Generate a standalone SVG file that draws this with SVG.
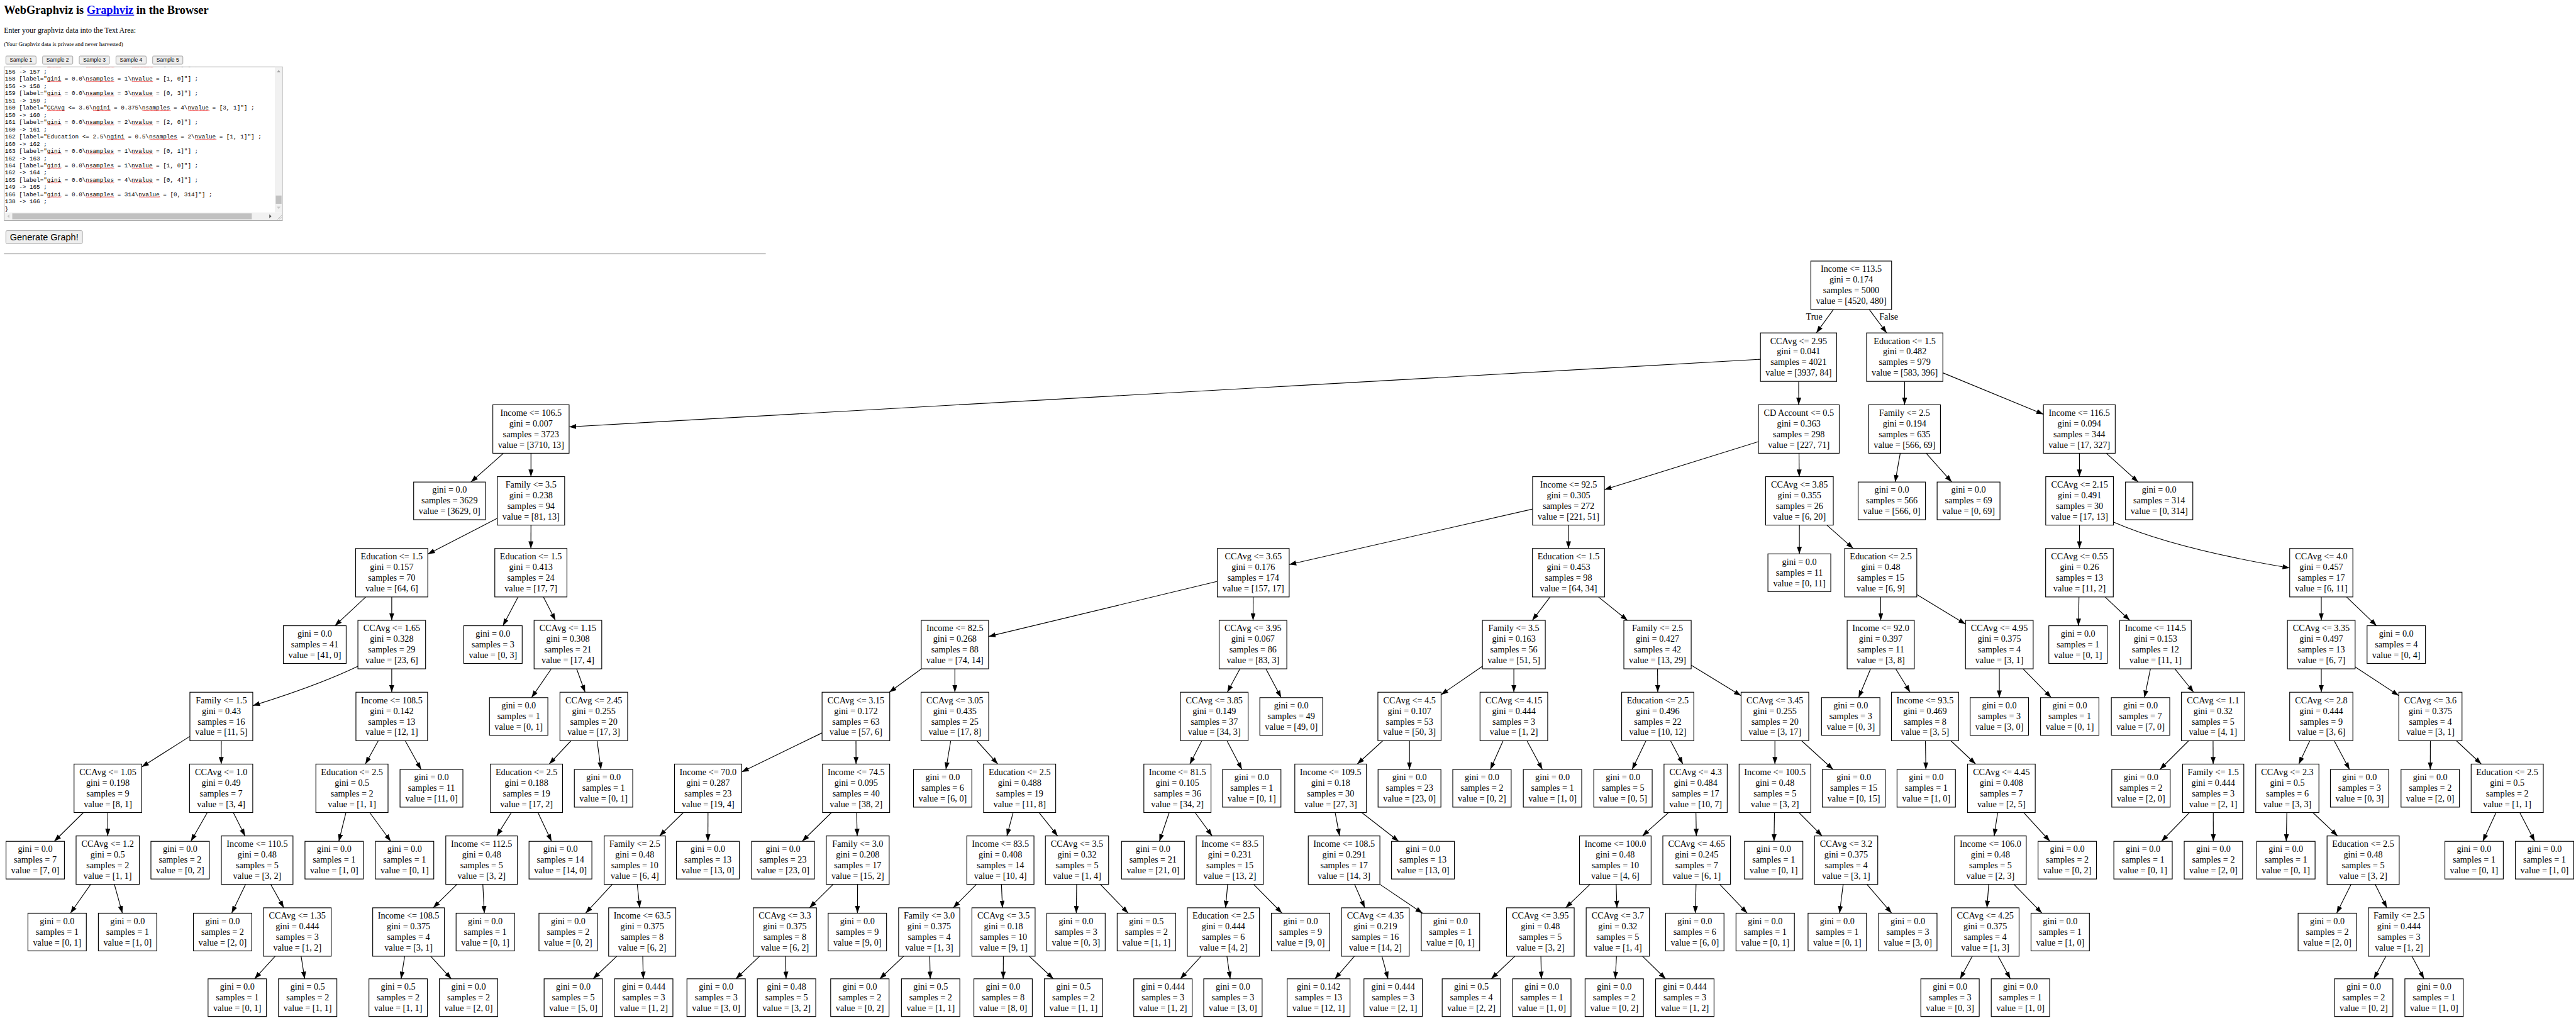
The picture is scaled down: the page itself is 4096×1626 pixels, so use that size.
<svg xmlns="http://www.w3.org/2000/svg" width="4096" height="1626" viewBox="0 0 4096 1626">
<style>
.n rect{fill:#fff;stroke:#000;stroke-width:1.5}
.n text,.lb{font-family:"Liberation Serif","Times New Roman",serif;font-size:18.6px;text-anchor:middle;fill:#000}
.e path{fill:none;stroke:#000;stroke-width:1.5;marker-end:url(#ah)}
.h1{font-family:"Liberation Serif","Times New Roman",serif;font-weight:bold;font-size:24px;fill:#000}
.p{font-family:"Liberation Serif","Times New Roman",serif;font-size:15.6px;fill:#000}
.sm{font-family:"Liberation Serif","Times New Roman",serif;font-size:12px;fill:#000}
.bt rect{fill:#efefef;stroke:#8a8a8a;stroke-width:1}
.bt text{font-family:"Liberation Sans",Arial,sans-serif;font-size:11.1px;text-anchor:middle;fill:#000}
.code{font-family:"Liberation Mono","Courier New",monospace;font-size:12.2px;fill:#000}
.sq{fill:url(#sq)}
</style>
<defs>
<marker id="ah" viewBox="0 0 10 7" refX="10" refY="3.5" markerUnits="userSpaceOnUse" markerWidth="14.8" markerHeight="10.4" orient="auto"><path d="M0,0L10,3.5L0,7z" fill="#000"/></marker>
<pattern id="sq" width="3" height="3" patternUnits="userSpaceOnUse"><path d="M0,2.4L1.5,0.6L3,2.4" fill="none" stroke="#e00" stroke-width="0.8"/></pattern>
<clipPath id="tac"><rect x="9.2" y="139.4" width="562" height="302"/></clipPath>
</defs>
<rect width="4096" height="1626" fill="#fff"/>
<g transform="scale(0.76475)">
<g id="page">
<text class="h1" x="8.2" y="29">WebGraphviz is <tspan fill="#0000ee">Graphviz</tspan> in the Browser</text>
<line x1="181.6" y1="31.6" x2="278.9" y2="31.6" stroke="#0000ee" stroke-width="1.6"/>
<text class="p" x="8.2" y="68">Enter your graphviz data into the Text Area:</text>
<text class="sm" x="8.2" y="96">(Your Graphviz data is private and never harvested)</text>
<g class="bt">
<rect x="12.2" y="116.4" width="62.8" height="17" rx="2"/><text x="43.6" y="128.5">Sample 1</text>
<rect x="88.5" y="116.4" width="62.8" height="17" rx="2"/><text x="119.9" y="128.5">Sample 2</text>
<rect x="164.8" y="116.4" width="62.8" height="17" rx="2"/><text x="196.2" y="128.5">Sample 3</text>
<rect x="241.1" y="116.4" width="62.8" height="17" rx="2"/><text x="272.5" y="128.5">Sample 4</text>
<rect x="317.4" y="116.4" width="62.8" height="17" rx="2"/><text x="348.8" y="128.5">Sample 5</text>
</g>
<rect x="8.7" y="138.9" width="578.6" height="319.3" fill="#fff" stroke="#8f8f8f" stroke-width="1"/>
<g clip-path="url(#tac)">
<text class="code" x="10.2" y="137.8">157 [label="gini = 0.0\nsamples = 2\nvalue = [0, 2]"] ;</text>
<text class="code" x="10.2" y="152.8">156 -&gt; 157 ;</text>
<text class="code" x="10.2" y="167.8">158 [label="gini = 0.0\nsamples = 1\nvalue = [1, 0]"] ;</text>
<text class="code" x="10.2" y="182.8">156 -&gt; 158 ;</text>
<text class="code" x="10.2" y="197.8">159 [label="gini = 0.0\nsamples = 3\nvalue = [0, 3]"] ;</text>
<text class="code" x="10.2" y="212.8">151 -&gt; 159 ;</text>
<text class="code" x="10.2" y="227.8">160 [label="CCAvg &lt;= 3.6\ngini = 0.375\nsamples = 4\nvalue = [3, 1]"] ;</text>
<text class="code" x="10.2" y="242.8">150 -&gt; 160 ;</text>
<text class="code" x="10.2" y="257.8">161 [label="gini = 0.0\nsamples = 2\nvalue = [2, 0]"] ;</text>
<text class="code" x="10.2" y="272.8">160 -&gt; 161 ;</text>
<text class="code" x="10.2" y="287.8">162 [label="Education &lt;= 2.5\ngini = 0.5\nsamples = 2\nvalue = [1, 1]"] ;</text>
<text class="code" x="10.2" y="302.8">160 -&gt; 162 ;</text>
<text class="code" x="10.2" y="317.8">163 [label="gini = 0.0\nsamples = 1\nvalue = [0, 1]"] ;</text>
<text class="code" x="10.2" y="332.8">162 -&gt; 163 ;</text>
<text class="code" x="10.2" y="347.8">164 [label="gini = 0.0\nsamples = 1\nvalue = [1, 0]"] ;</text>
<text class="code" x="10.2" y="362.8">162 -&gt; 164 ;</text>
<text class="code" x="10.2" y="377.8">165 [label="gini = 0.0\nsamples = 4\nvalue = [0, 4]"] ;</text>
<text class="code" x="10.2" y="392.8">149 -&gt; 165 ;</text>
<text class="code" x="10.2" y="407.8">166 [label="gini = 0.0\nsamples = 314\nvalue = [0, 314]"] ;</text>
<text class="code" x="10.2" y="422.8">138 -&gt; 166 ;</text>
<text class="code" x="10.2" y="437.8">}</text>
<rect class="sq" x="98.2" y="138" width="29.3" height="3"/><rect class="sq" x="178.8" y="138" width="58.6" height="3"/><rect class="sq" x="274.1" y="138" width="44" height="3"/>
<rect class="sq" x="98.2" y="168" width="29.3" height="3"/><rect class="sq" x="178.8" y="168" width="58.6" height="3"/><rect class="sq" x="274.1" y="168" width="44" height="3"/>
<rect class="sq" x="98.2" y="198" width="29.3" height="3"/><rect class="sq" x="178.8" y="198" width="58.6" height="3"/><rect class="sq" x="274.1" y="198" width="44" height="3"/>
<rect class="sq" x="98.2" y="228" width="36.6" height="3"/><rect class="sq" x="193.5" y="228" width="36.6" height="3"/><rect class="sq" x="296.1" y="228" width="58.6" height="3"/><rect class="sq" x="391.4" y="228" width="44" height="3"/>
<rect class="sq" x="98.2" y="258" width="29.3" height="3"/><rect class="sq" x="178.8" y="258" width="58.6" height="3"/><rect class="sq" x="274.1" y="258" width="44" height="3"/>
<rect class="sq" x="222.8" y="288" width="36.6" height="3"/><rect class="sq" x="310.7" y="288" width="58.6" height="3"/><rect class="sq" x="406" y="288" width="44" height="3"/>
<rect class="sq" x="98.2" y="318" width="29.3" height="3"/><rect class="sq" x="178.8" y="318" width="58.6" height="3"/><rect class="sq" x="274.1" y="318" width="44" height="3"/>
<rect class="sq" x="98.2" y="348" width="29.3" height="3"/><rect class="sq" x="178.8" y="348" width="58.6" height="3"/><rect class="sq" x="274.1" y="348" width="44" height="3"/>
<rect class="sq" x="98.2" y="378" width="29.3" height="3"/><rect class="sq" x="178.8" y="378" width="58.6" height="3"/><rect class="sq" x="274.1" y="378" width="44" height="3"/>
<rect class="sq" x="98.2" y="408" width="29.3" height="3"/><rect class="sq" x="178.8" y="408" width="58.6" height="3"/><rect class="sq" x="288.7" y="408" width="44" height="3"/>
</g>
<rect x="571.5" y="139.4" width="15.8" height="302.1" fill="#f1f1f1"/>
<rect x="573.4" y="406.4" width="12" height="17.2" fill="#c1c1c1"/>
<path d="M575.6,150.5L579.4,145.5L583.2,150.5z" fill="#a3a3a3"/>
<path d="M575.6,429.5L579.4,434.5L583.2,429.5z" fill="#c8c8c8"/>
<rect x="9.2" y="441.5" width="562.3" height="16.2" fill="#f1f1f1"/>
<rect x="25.5" y="443.5" width="498" height="12.2" fill="#c1c1c1"/>
<path d="M19.5,445.7L15,449.6L19.5,453.5z" fill="#c8c8c8"/>
<path d="M560,445.7L564.5,449.6L560,453.5z" fill="#505050"/>
<rect x="571.5" y="441.5" width="15.8" height="16.2" fill="#f1f1f1"/>
<path d="M577,456L585.5,447.5M580.5,456L585.5,451" stroke="#999" stroke-width="0.8"/>
<g class="bt"><rect x="12.2" y="479.4" width="159.2" height="26.8" rx="2.5"/><text x="91.8" y="499" style="font-size:19px">Generate Graph!</text></g>
<rect x="8.2" y="526.6" width="1584" height="1.8" fill="#a0a0a0"/>
</g>
<g id="edges" class="e">
<path d="M3812.1,643.3L3776.5,691.95"/>
<path d="M3886.5,643.3L3922.8,691.95"/>
<path d="M3660.3,746.8L1183.3,887.2"/>
<path d="M3739.8,792.65L3739.9,841.3"/>
<path d="M3960.2,792.65L3960,841.3"/>
<path d="M4039.6,774.9L4248.85,861"/>
<path d="M1046.9,942L979.1,1001.85"/>
<path d="M1104,942L1104,990.65"/>
<path d="M3656.1,917.85L3335.85,1017.7"/>
<path d="M3740.5,942L3741,990.65"/>
<path d="M3951,942L3940.3,1001.85"/>
<path d="M4004.8,942L4058.1,1001.85"/>
<path d="M4323.5,942L4323.6,990.65"/>
<path d="M4379.3,942L4445.8,1001.85"/>
<path d="M1034,1077.1L889.5,1151.7"/>
<path d="M1104,1091.35L1103.8,1140"/>
<path d="M3186.55,1058L2680.45,1173.3"/>
<path d="M3261.2,1091.35L3261.2,1140"/>
<path d="M3741.3,1091.35L3741.2,1151.2"/>
<path d="M3798.4,1091.35L3853.4,1140"/>
<path d="M4323.7,1091.35L4323.6,1140"/>
<path d="M4394.15,1085Q4520,1140 4760.7,1180.5"/>
<path d="M760.5,1240.7L696.4,1300.55"/>
<path d="M814.5,1240.7L814.5,1289.35"/>
<path d="M1077.2,1240.7L1045.7,1300.55"/>
<path d="M1129.8,1240.7L1154.8,1289.35"/>
<path d="M2531.15,1208.3L2055.4,1322.85"/>
<path d="M2605.6,1240.7L2605.4,1289.35"/>
<path d="M3222.9,1240.7L3185.9,1289.35"/>
<path d="M3323.6,1240.7L3383.9,1289.35"/>
<path d="M3910.4,1240.7L3910.4,1289.35"/>
<path d="M3985.4,1235.8L4086.65,1297.1"/>
<path d="M4322.6,1240.7L4321.4,1300.55"/>
<path d="M4376.9,1240.7L4428.3,1289.35"/>
<path d="M4826.4,1240.7L4826.4,1289.35"/>
<path d="M4879,1240.7L4941.4,1300.55"/>
<path d="M744.15,1384.7Q660,1425 525.55,1466.6"/>
<path d="M814.5,1390.05L814.5,1438.7"/>
<path d="M1146.3,1390.05L1105.2,1449.9"/>
<path d="M1198.9,1390.05L1216.5,1438.7"/>
<path d="M1916,1390.05L1849,1438.7"/>
<path d="M1985.4,1390.05L1985.4,1438.7"/>
<path d="M2578.1,1390.05L2551.8,1438.7"/>
<path d="M2632,1390.05L2663.9,1449.9"/>
<path d="M3082.25,1384.7L2996.3,1443.8"/>
<path d="M3147.6,1390.05L3147.6,1438.7"/>
<path d="M3446.3,1390.05L3446.8,1438.7"/>
<path d="M3516.3,1382.5L3620.05,1446"/>
<path d="M3889.4,1390.05L3864.4,1449.9"/>
<path d="M3941.5,1390.05L3971.5,1438.7"/>
<path d="M4157,1390.05L4157,1449.9"/>
<path d="M4206.4,1390.05L4265,1449.9"/>
<path d="M4471.2,1390.05L4458.7,1449.9"/>
<path d="M4522,1390.05L4561,1438.7"/>
<path d="M4826.4,1390.05L4826.4,1438.7"/>
<path d="M4896.75,1386L4987.6,1445.8"/>
<path d="M394.85,1530.4L294.65,1593.9"/>
<path d="M460.1,1539.4L459.9,1588.05"/>
<path d="M786.6,1539.4L759.7,1588.05"/>
<path d="M842.4,1539.4L875.5,1599.25"/>
<path d="M1187.4,1539.4L1141.9,1588.05"/>
<path d="M1241.4,1539.4L1249.6,1599.25"/>
<path d="M1709.25,1523.2L1542,1604.5"/>
<path d="M1779.7,1539.4L1779.9,1588.05"/>
<path d="M1976.8,1539.4L1966.7,1599.25"/>
<path d="M2030.8,1539.4L2074.6,1588.05"/>
<path d="M2498.9,1539.4L2473.9,1588.05"/>
<path d="M2551,1539.4L2582.2,1599.25"/>
<path d="M2875.3,1539.4L2821.9,1588.05"/>
<path d="M2930.6,1539.4L2930.6,1599.25"/>
<path d="M3125.3,1539.4L3098.7,1599.25"/>
<path d="M3174.7,1539.4L3206.9,1599.25"/>
<path d="M3422.4,1539.4L3393.5,1599.25"/>
<path d="M3473.3,1539.4L3499,1588.05"/>
<path d="M3690.4,1539.4L3690.4,1588.05"/>
<path d="M3745.7,1539.4L3811.4,1599.25"/>
<path d="M4003.3,1539.4L4004.3,1599.25"/>
<path d="M4056,1539.4L4107.8,1588.05"/>
<path d="M4550.8,1539.4L4490.8,1599.25"/>
<path d="M4601.4,1539.4L4601.6,1588.05"/>
<path d="M4802.6,1539.4L4779.6,1588.05"/>
<path d="M4853.2,1539.4L4885.1,1599.25"/>
<path d="M5053.2,1539.4L5053,1599.25"/>
<path d="M5107.1,1539.4L5159.2,1588.05"/>
<path d="M173.4,1688.75L112.8,1748.6"/>
<path d="M224.2,1688.75L224,1737.4"/>
<path d="M431,1688.75L396.9,1748.6"/>
<path d="M485.1,1688.75L509.5,1737.4"/>
<path d="M719.3,1688.75L704.5,1748.6"/>
<path d="M768.7,1688.75L812.5,1748.6"/>
<path d="M1063.2,1688.75L1032.8,1737.4"/>
<path d="M1118.5,1688.75L1146.8,1748.6"/>
<path d="M1420.8,1688.75L1371.2,1737.4"/>
<path d="M1472.1,1688.75L1471.9,1748.6"/>
<path d="M1728.8,1688.75L1667.8,1748.6"/>
<path d="M1781.1,1688.75L1782.3,1737.4"/>
<path d="M2106.5,1688.75L2093.5,1737.4"/>
<path d="M2160.2,1688.75L2199.1,1737.4"/>
<path d="M2431,1688.75L2410.6,1748.6"/>
<path d="M2484.8,1688.75L2520.3,1737.4"/>
<path d="M2776,1688.75L2785.2,1737.4"/>
<path d="M2831.3,1688.75L2908.3,1748.6"/>
<path d="M3469.2,1688.75L3414.8,1737.4"/>
<path d="M3526.2,1688.75L3527,1737.4"/>
<path d="M3689.5,1688.75L3688.5,1748.6"/>
<path d="M3740.3,1688.75L3788.6,1737.4"/>
<path d="M4153.6,1688.75L4146.2,1737.4"/>
<path d="M4207.5,1688.75L4262.3,1748.6"/>
<path d="M4552.5,1688.75L4494.1,1748.6"/>
<path d="M4601.8,1688.75L4602,1748.6"/>
<path d="M4754.8,1688.75L4753.6,1748.6"/>
<path d="M4808.9,1688.75L4860.3,1737.4"/>
<path d="M5189.8,1688.75L5162.2,1748.6"/>
<path d="M5239.1,1688.75L5270.2,1748.6"/>
<path d="M188.5,1838.1L146.4,1897.95"/>
<path d="M237.8,1838.1L254.4,1897.95"/>
<path d="M510.5,1838.1L481.7,1897.95"/>
<path d="M562.9,1838.1L590.1,1886.75"/>
<path d="M950.1,1838.1L900.6,1886.75"/>
<path d="M1003.9,1838.1L1007,1897.95"/>
<path d="M1273.1,1838.1L1217.6,1897.95"/>
<path d="M1325,1838.1L1330.1,1886.75"/>
<path d="M1732.3,1838.1L1683,1886.75"/>
<path d="M1783.1,1838.1L1782.8,1897.95"/>
<path d="M2030.1,1838.1L1981.9,1886.75"/>
<path d="M2082.2,1838.1L2084.3,1886.75"/>
<path d="M2238.6,1838.1L2237.8,1897.95"/>
<path d="M2287.9,1838.1L2345.7,1897.95"/>
<path d="M2552.5,1838.1L2548.2,1886.75"/>
<path d="M2606.6,1838.1L2665.6,1897.95"/>
<path d="M2816.5,1838.1L2837.7,1886.75"/>
<path d="M2869,1838L2957.8,1897.95"/>
<path d="M3306,1838.1L3255.2,1886.75"/>
<path d="M3360.3,1838.1L3361.9,1886.75"/>
<path d="M3526.4,1838.1L3524.8,1897.95"/>
<path d="M3575.7,1838.1L3632.8,1897.95"/>
<path d="M3832.3,1838.1L3824.8,1897.95"/>
<path d="M3881.7,1838.1L3933.1,1897.95"/>
<path d="M4134.9,1838.1L4131.3,1886.75"/>
<path d="M4187.4,1838.1L4245.6,1897.95"/>
<path d="M4888.3,1838.1L4858.4,1897.95"/>
<path d="M4938.5,1838.1L4962.8,1886.75"/>
<path d="M572.1,1987.45L529.2,2034.35"/>
<path d="M626.1,1987.45L633.5,2034.35"/>
<path d="M841.4,1987.45L834,2034.35"/>
<path d="M895.5,1987.45L938.4,2034.35"/>
<path d="M1282.4,1987.45L1233.1,2034.35"/>
<path d="M1336.4,1987.45L1337.5,2034.35"/>
<path d="M1579.2,1987.45L1530,2034.35"/>
<path d="M1633.2,1987.45L1634.4,2034.35"/>
<path d="M1878.8,1987.45L1829.2,2034.35"/>
<path d="M1933.1,1987.45L1934.1,2034.35"/>
<path d="M2086.2,1987.45L2085.9,2034.35"/>
<path d="M2140.2,1987.45L2190.2,2034.35"/>
<path d="M2497.3,1987.45L2454.1,2034.35"/>
<path d="M2551,1987.45L2557.8,2034.35"/>
<path d="M2816,1987.45L2775.5,2034.35"/>
<path d="M2873.3,1987.45L2886,2034.35"/>
<path d="M3149.8,1987.45L3100.5,2034.35"/>
<path d="M3203.8,1987.45L3204.8,2034.35"/>
<path d="M3361,1987.45L3358.5,2034.35"/>
<path d="M3415.2,1987.45L3463.1,2034.35"/>
<path d="M4100.7,1987.45L4075.5,2034.35"/>
<path d="M4154.7,1987.45L4179.9,2034.35"/>
<path d="M4960.8,1987.45L4935.6,2034.35"/>
<path d="M5014.9,1987.45L5040,2034.35"/>
</g>
<text class="lb" x="3772" y="664.3">True</text>
<text class="lb" x="3927" y="664.3">False</text>
<g id="nodes">
<g id="n0" class="n" transform="translate(3849,592.95)"><rect x="-83.95" y="-50.35" width="167.9" height="100.7"/><text y="-27.7">Income &lt;= 113.5</text><text y="-5.5">gini = 0.174</text><text y="16.7">samples = 5000</text><text y="38.9">value = [4520, 480]</text></g>
<g id="n1" class="n" transform="translate(3739.6,742.3)"><rect x="-79.3" y="-50.35" width="158.6" height="100.7"/><text y="-27.7">CCAvg &lt;= 2.95</text><text y="-5.5">gini = 0.041</text><text y="16.7">samples = 4021</text><text y="38.9">value = [3937, 84]</text></g>
<g id="n2" class="n" transform="translate(3960.3,742.3)"><rect x="-79.3" y="-50.35" width="158.6" height="100.7"/><text y="-27.7">Education &lt;= 1.5</text><text y="-5.5">gini = 0.482</text><text y="16.7">samples = 979</text><text y="38.9">value = [583, 396]</text></g>
<g id="n3" class="n" transform="translate(1104,891.65)"><rect x="-79.3" y="-50.35" width="158.6" height="100.7"/><text y="-27.7">Income &lt;= 106.5</text><text y="-5.5">gini = 0.007</text><text y="16.7">samples = 3723</text><text y="38.9">value = [3710, 13]</text></g>
<g id="n4" class="n" transform="translate(3740.1,891.65)"><rect x="-84" y="-50.35" width="168" height="100.7"/><text y="-27.7">CD Account &lt;= 0.5</text><text y="-5.5">gini = 0.363</text><text y="16.7">samples = 298</text><text y="38.9">value = [227, 71]</text></g>
<g id="n5" class="n" transform="translate(3959.9,891.65)"><rect x="-74.65" y="-50.35" width="149.3" height="100.7"/><text y="-27.7">Family &lt;= 2.5</text><text y="-5.5">gini = 0.194</text><text y="16.7">samples = 635</text><text y="38.9">value = [566, 69]</text></g>
<g id="n6" class="n" transform="translate(4323.3,891.65)"><rect x="-74.65" y="-50.35" width="149.3" height="100.7"/><text y="-27.7">Income &lt;= 116.5</text><text y="-5.5">gini = 0.094</text><text y="16.7">samples = 344</text><text y="38.9">value = [17, 327]</text></g>
<g id="n7" class="n" transform="translate(934.7,1041)"><rect x="-74.65" y="-39.15" width="149.3" height="78.3"/><text y="-16.6">gini = 0.0</text><text y="5.6">samples = 3629</text><text y="27.8">value = [3629, 0]</text></g>
<g id="n8" class="n" transform="translate(1104,1041)"><rect x="-70" y="-50.35" width="140" height="100.7"/><text y="-27.7">Family &lt;= 3.5</text><text y="-5.5">gini = 0.238</text><text y="16.7">samples = 94</text><text y="38.9">value = [81, 13]</text></g>
<g id="n9" class="n" transform="translate(3261.2,1041)"><rect x="-74.65" y="-50.35" width="149.3" height="100.7"/><text y="-27.7">Income &lt;= 92.5</text><text y="-5.5">gini = 0.305</text><text y="16.7">samples = 272</text><text y="38.9">value = [221, 51]</text></g>
<g id="n10" class="n" transform="translate(3741.4,1041)"><rect x="-70.35" y="-50.35" width="140.7" height="100.7"/><text y="-27.7">CCAvg &lt;= 3.85</text><text y="-5.5">gini = 0.355</text><text y="16.7">samples = 26</text><text y="38.9">value = [6, 20]</text></g>
<g id="n11" class="n" transform="translate(3933.4,1041)"><rect x="-70" y="-39.15" width="140" height="78.3"/><text y="-16.6">gini = 0.0</text><text y="5.6">samples = 566</text><text y="27.8">value = [566, 0]</text></g>
<g id="n12" class="n" transform="translate(4093,1041)"><rect x="-65.35" y="-39.15" width="130.7" height="78.3"/><text y="-16.6">gini = 0.0</text><text y="5.6">samples = 69</text><text y="27.8">value = [0, 69]</text></g>
<g id="n13" class="n" transform="translate(4323.8,1041)"><rect x="-70.35" y="-50.35" width="140.7" height="100.7"/><text y="-27.7">CCAvg &lt;= 2.15</text><text y="-5.5">gini = 0.491</text><text y="16.7">samples = 30</text><text y="38.9">value = [17, 13]</text></g>
<g id="n14" class="n" transform="translate(4489.3,1041)"><rect x="-70" y="-39.15" width="140" height="78.3"/><text y="-16.6">gini = 0.0</text><text y="5.6">samples = 314</text><text y="27.8">value = [0, 314]</text></g>
<g id="n15" class="n" transform="translate(814.5,1190.35)"><rect x="-75" y="-50.35" width="150" height="100.7"/><text y="-27.7">Education &lt;= 1.5</text><text y="-5.5">gini = 0.157</text><text y="16.7">samples = 70</text><text y="38.9">value = [64, 6]</text></g>
<g id="n16" class="n" transform="translate(1103.8,1190.35)"><rect x="-75" y="-50.35" width="150" height="100.7"/><text y="-27.7">Education &lt;= 1.5</text><text y="-5.5">gini = 0.413</text><text y="16.7">samples = 24</text><text y="38.9">value = [17, 7]</text></g>
<g id="n17" class="n" transform="translate(2605.8,1190.35)"><rect x="-74.65" y="-50.35" width="149.3" height="100.7"/><text y="-27.7">CCAvg &lt;= 3.65</text><text y="-5.5">gini = 0.176</text><text y="16.7">samples = 174</text><text y="38.9">value = [157, 17]</text></g>
<g id="n18" class="n" transform="translate(3261.2,1190.35)"><rect x="-75" y="-50.35" width="150" height="100.7"/><text y="-27.7">Education &lt;= 1.5</text><text y="-5.5">gini = 0.453</text><text y="16.7">samples = 98</text><text y="38.9">value = [64, 34]</text></g>
<g id="n19" class="n" transform="translate(3741.2,1190.35)"><rect x="-65.35" y="-39.15" width="130.7" height="78.3"/><text y="-16.6">gini = 0.0</text><text y="5.6">samples = 11</text><text y="27.8">value = [0, 11]</text></g>
<g id="n20" class="n" transform="translate(3910.4,1190.35)"><rect x="-75" y="-50.35" width="150" height="100.7"/><text y="-27.7">Education &lt;= 2.5</text><text y="-5.5">gini = 0.48</text><text y="16.7">samples = 15</text><text y="38.9">value = [6, 9]</text></g>
<g id="n21" class="n" transform="translate(4323.6,1190.35)"><rect x="-70.35" y="-50.35" width="140.7" height="100.7"/><text y="-27.7">CCAvg &lt;= 0.55</text><text y="-5.5">gini = 0.26</text><text y="16.7">samples = 13</text><text y="38.9">value = [11, 2]</text></g>
<g id="n22" class="n" transform="translate(4826.4,1190.35)"><rect x="-65.7" y="-50.35" width="131.4" height="100.7"/><text y="-27.7">CCAvg &lt;= 4.0</text><text y="-5.5">gini = 0.457</text><text y="16.7">samples = 17</text><text y="38.9">value = [6, 11]</text></g>
<g id="n23" class="n" transform="translate(654.4,1339.7)"><rect x="-65.35" y="-39.15" width="130.7" height="78.3"/><text y="-16.6">gini = 0.0</text><text y="5.6">samples = 41</text><text y="27.8">value = [41, 0]</text></g>
<g id="n24" class="n" transform="translate(814.5,1339.7)"><rect x="-70.35" y="-50.35" width="140.7" height="100.7"/><text y="-27.7">CCAvg &lt;= 1.65</text><text y="-5.5">gini = 0.328</text><text y="16.7">samples = 29</text><text y="38.9">value = [23, 6]</text></g>
<g id="n25" class="n" transform="translate(1025,1339.7)"><rect x="-60.7" y="-39.15" width="121.4" height="78.3"/><text y="-16.6">gini = 0.0</text><text y="5.6">samples = 3</text><text y="27.8">value = [0, 3]</text></g>
<g id="n26" class="n" transform="translate(1180.8,1339.7)"><rect x="-70.35" y="-50.35" width="140.7" height="100.7"/><text y="-27.7">CCAvg &lt;= 1.15</text><text y="-5.5">gini = 0.308</text><text y="16.7">samples = 21</text><text y="38.9">value = [17, 4]</text></g>
<g id="n27" class="n" transform="translate(1985.4,1339.7)"><rect x="-70" y="-50.35" width="140" height="100.7"/><text y="-27.7">Income &lt;= 82.5</text><text y="-5.5">gini = 0.268</text><text y="16.7">samples = 88</text><text y="38.9">value = [74, 14]</text></g>
<g id="n28" class="n" transform="translate(2605.2,1339.7)"><rect x="-70.35" y="-50.35" width="140.7" height="100.7"/><text y="-27.7">CCAvg &lt;= 3.95</text><text y="-5.5">gini = 0.067</text><text y="16.7">samples = 86</text><text y="38.9">value = [83, 3]</text></g>
<g id="n29" class="n" transform="translate(3147.6,1339.7)"><rect x="-65.35" y="-50.35" width="130.7" height="100.7"/><text y="-27.7">Family &lt;= 3.5</text><text y="-5.5">gini = 0.163</text><text y="16.7">samples = 56</text><text y="38.9">value = [51, 5]</text></g>
<g id="n30" class="n" transform="translate(3446.3,1339.7)"><rect x="-70" y="-50.35" width="140" height="100.7"/><text y="-27.7">Family &lt;= 2.5</text><text y="-5.5">gini = 0.427</text><text y="16.7">samples = 42</text><text y="38.9">value = [13, 29]</text></g>
<g id="n31" class="n" transform="translate(3910.4,1339.7)"><rect x="-69.8" y="-50.35" width="139.6" height="100.7"/><text y="-27.7">Income &lt;= 92.0</text><text y="-5.5">gini = 0.397</text><text y="16.7">samples = 11</text><text y="38.9">value = [3, 8]</text></g>
<g id="n32" class="n" transform="translate(4157,1339.7)"><rect x="-70.35" y="-50.35" width="140.7" height="100.7"/><text y="-27.7">CCAvg &lt;= 4.95</text><text y="-5.5">gini = 0.375</text><text y="16.7">samples = 4</text><text y="38.9">value = [3, 1]</text></g>
<g id="n33" class="n" transform="translate(4320.6,1339.7)"><rect x="-60.7" y="-39.15" width="121.4" height="78.3"/><text y="-16.6">gini = 0.0</text><text y="5.6">samples = 1</text><text y="27.8">value = [0, 1]</text></g>
<g id="n34" class="n" transform="translate(4481.6,1339.7)"><rect x="-74.45" y="-50.35" width="148.9" height="100.7"/><text y="-27.7">Income &lt;= 114.5</text><text y="-5.5">gini = 0.153</text><text y="16.7">samples = 12</text><text y="38.9">value = [11, 1]</text></g>
<g id="n35" class="n" transform="translate(4826.4,1339.7)"><rect x="-70.35" y="-50.35" width="140.7" height="100.7"/><text y="-27.7">CCAvg &lt;= 3.35</text><text y="-5.5">gini = 0.497</text><text y="16.7">samples = 13</text><text y="38.9">value = [6, 7]</text></g>
<g id="n36" class="n" transform="translate(4982.3,1339.7)"><rect x="-60.7" y="-39.15" width="121.4" height="78.3"/><text y="-16.6">gini = 0.0</text><text y="5.6">samples = 4</text><text y="27.8">value = [0, 4]</text></g>
<g id="n37" class="n" transform="translate(460.2,1489.05)"><rect x="-65.35" y="-50.35" width="130.7" height="100.7"/><text y="-27.7">Family &lt;= 1.5</text><text y="-5.5">gini = 0.43</text><text y="16.7">samples = 16</text><text y="38.9">value = [11, 5]</text></g>
<g id="n38" class="n" transform="translate(814.5,1489.05)"><rect x="-74.45" y="-50.35" width="148.9" height="100.7"/><text y="-27.7">Income &lt;= 108.5</text><text y="-5.5">gini = 0.142</text><text y="16.7">samples = 13</text><text y="38.9">value = [12, 1]</text></g>
<g id="n39" class="n" transform="translate(1078.4,1489.05)"><rect x="-60.7" y="-39.15" width="121.4" height="78.3"/><text y="-16.6">gini = 0.0</text><text y="5.6">samples = 1</text><text y="27.8">value = [0, 1]</text></g>
<g id="n40" class="n" transform="translate(1234.6,1489.05)"><rect x="-70.35" y="-50.35" width="140.7" height="100.7"/><text y="-27.7">CCAvg &lt;= 2.45</text><text y="-5.5">gini = 0.255</text><text y="16.7">samples = 20</text><text y="38.9">value = [17, 3]</text></g>
<g id="n41" class="n" transform="translate(1779.6,1489.05)"><rect x="-70.35" y="-50.35" width="140.7" height="100.7"/><text y="-27.7">CCAvg &lt;= 3.15</text><text y="-5.5">gini = 0.172</text><text y="16.7">samples = 63</text><text y="38.9">value = [57, 6]</text></g>
<g id="n42" class="n" transform="translate(1985.4,1489.05)"><rect x="-70.35" y="-50.35" width="140.7" height="100.7"/><text y="-27.7">CCAvg &lt;= 3.05</text><text y="-5.5">gini = 0.435</text><text y="16.7">samples = 25</text><text y="38.9">value = [17, 8]</text></g>
<g id="n43" class="n" transform="translate(2524.7,1489.05)"><rect x="-70.35" y="-50.35" width="140.7" height="100.7"/><text y="-27.7">CCAvg &lt;= 3.85</text><text y="-5.5">gini = 0.149</text><text y="16.7">samples = 37</text><text y="38.9">value = [34, 3]</text></g>
<g id="n44" class="n" transform="translate(2684.8,1489.05)"><rect x="-65.35" y="-39.15" width="130.7" height="78.3"/><text y="-16.6">gini = 0.0</text><text y="5.6">samples = 49</text><text y="27.8">value = [49, 0]</text></g>
<g id="n45" class="n" transform="translate(2930.6,1489.05)"><rect x="-65.7" y="-50.35" width="131.4" height="100.7"/><text y="-27.7">CCAvg &lt;= 4.5</text><text y="-5.5">gini = 0.107</text><text y="16.7">samples = 53</text><text y="38.9">value = [50, 3]</text></g>
<g id="n46" class="n" transform="translate(3147.6,1489.05)"><rect x="-70.35" y="-50.35" width="140.7" height="100.7"/><text y="-27.7">CCAvg &lt;= 4.15</text><text y="-5.5">gini = 0.444</text><text y="16.7">samples = 3</text><text y="38.9">value = [1, 2]</text></g>
<g id="n47" class="n" transform="translate(3446.8,1489.05)"><rect x="-75" y="-50.35" width="150" height="100.7"/><text y="-27.7">Education &lt;= 2.5</text><text y="-5.5">gini = 0.496</text><text y="16.7">samples = 22</text><text y="38.9">value = [10, 12]</text></g>
<g id="n48" class="n" transform="translate(3690.4,1489.05)"><rect x="-70.35" y="-50.35" width="140.7" height="100.7"/><text y="-27.7">CCAvg &lt;= 3.45</text><text y="-5.5">gini = 0.255</text><text y="16.7">samples = 20</text><text y="38.9">value = [3, 17]</text></g>
<g id="n49" class="n" transform="translate(3848,1489.05)"><rect x="-60.7" y="-39.15" width="121.4" height="78.3"/><text y="-16.6">gini = 0.0</text><text y="5.6">samples = 3</text><text y="27.8">value = [0, 3]</text></g>
<g id="n50" class="n" transform="translate(4002.5,1489.05)"><rect x="-69.8" y="-50.35" width="139.6" height="100.7"/><text y="-27.7">Income &lt;= 93.5</text><text y="-5.5">gini = 0.469</text><text y="16.7">samples = 8</text><text y="38.9">value = [3, 5]</text></g>
<g id="n51" class="n" transform="translate(4157,1489.05)"><rect x="-60.7" y="-39.15" width="121.4" height="78.3"/><text y="-16.6">gini = 0.0</text><text y="5.6">samples = 3</text><text y="27.8">value = [3, 0]</text></g>
<g id="n52" class="n" transform="translate(4303.4,1489.05)"><rect x="-60.7" y="-39.15" width="121.4" height="78.3"/><text y="-16.6">gini = 0.0</text><text y="5.6">samples = 1</text><text y="27.8">value = [0, 1]</text></g>
<g id="n53" class="n" transform="translate(4450.6,1489.05)"><rect x="-60.7" y="-39.15" width="121.4" height="78.3"/><text y="-16.6">gini = 0.0</text><text y="5.6">samples = 7</text><text y="27.8">value = [7, 0]</text></g>
<g id="n54" class="n" transform="translate(4601.3,1489.05)"><rect x="-65.7" y="-50.35" width="131.4" height="100.7"/><text y="-27.7">CCAvg &lt;= 1.1</text><text y="-5.5">gini = 0.32</text><text y="16.7">samples = 5</text><text y="38.9">value = [4, 1]</text></g>
<g id="n55" class="n" transform="translate(4826.4,1489.05)"><rect x="-65.7" y="-50.35" width="131.4" height="100.7"/><text y="-27.7">CCAvg &lt;= 2.8</text><text y="-5.5">gini = 0.444</text><text y="16.7">samples = 9</text><text y="38.9">value = [3, 6]</text></g>
<g id="n56" class="n" transform="translate(5053.3,1489.05)"><rect x="-65.7" y="-50.35" width="131.4" height="100.7"/><text y="-27.7">CCAvg &lt;= 3.6</text><text y="-5.5">gini = 0.375</text><text y="16.7">samples = 4</text><text y="38.9">value = [3, 1]</text></g>
<g id="n57" class="n" transform="translate(224.3,1638.4)"><rect x="-70.35" y="-50.35" width="140.7" height="100.7"/><text y="-27.7">CCAvg &lt;= 1.05</text><text y="-5.5">gini = 0.198</text><text y="16.7">samples = 9</text><text y="38.9">value = [8, 1]</text></g>
<g id="n58" class="n" transform="translate(459.8,1638.4)"><rect x="-65.7" y="-50.35" width="131.4" height="100.7"/><text y="-27.7">CCAvg &lt;= 1.0</text><text y="-5.5">gini = 0.49</text><text y="16.7">samples = 7</text><text y="38.9">value = [3, 4]</text></g>
<g id="n59" class="n" transform="translate(731.8,1638.4)"><rect x="-75" y="-50.35" width="150" height="100.7"/><text y="-27.7">Education &lt;= 2.5</text><text y="-5.5">gini = 0.5</text><text y="16.7">samples = 2</text><text y="38.9">value = [1, 1]</text></g>
<g id="n60" class="n" transform="translate(897.1,1638.4)"><rect x="-65.35" y="-39.15" width="130.7" height="78.3"/><text y="-16.6">gini = 0.0</text><text y="5.6">samples = 11</text><text y="27.8">value = [11, 0]</text></g>
<g id="n61" class="n" transform="translate(1094.7,1638.4)"><rect x="-75" y="-50.35" width="150" height="100.7"/><text y="-27.7">Education &lt;= 2.5</text><text y="-5.5">gini = 0.188</text><text y="16.7">samples = 19</text><text y="38.9">value = [17, 2]</text></g>
<g id="n62" class="n" transform="translate(1254.9,1638.4)"><rect x="-60.7" y="-39.15" width="121.4" height="78.3"/><text y="-16.6">gini = 0.0</text><text y="5.6">samples = 1</text><text y="27.8">value = [0, 1]</text></g>
<g id="n63" class="n" transform="translate(1472.2,1638.4)"><rect x="-69.8" y="-50.35" width="139.6" height="100.7"/><text y="-27.7">Income &lt;= 70.0</text><text y="-5.5">gini = 0.287</text><text y="16.7">samples = 23</text><text y="38.9">value = [19, 4]</text></g>
<g id="n64" class="n" transform="translate(1780,1638.4)"><rect x="-69.8" y="-50.35" width="139.6" height="100.7"/><text y="-27.7">Income &lt;= 74.5</text><text y="-5.5">gini = 0.095</text><text y="16.7">samples = 40</text><text y="38.9">value = [38, 2]</text></g>
<g id="n65" class="n" transform="translate(1960,1638.4)"><rect x="-60.7" y="-39.15" width="121.4" height="78.3"/><text y="-16.6">gini = 0.0</text><text y="5.6">samples = 6</text><text y="27.8">value = [6, 0]</text></g>
<g id="n66" class="n" transform="translate(2120,1638.4)"><rect x="-75" y="-50.35" width="150" height="100.7"/><text y="-27.7">Education &lt;= 2.5</text><text y="-5.5">gini = 0.488</text><text y="16.7">samples = 19</text><text y="38.9">value = [11, 8]</text></g>
<g id="n67" class="n" transform="translate(2448.1,1638.4)"><rect x="-69.8" y="-50.35" width="139.6" height="100.7"/><text y="-27.7">Income &lt;= 81.5</text><text y="-5.5">gini = 0.105</text><text y="16.7">samples = 36</text><text y="38.9">value = [34, 2]</text></g>
<g id="n68" class="n" transform="translate(2602.6,1638.4)"><rect x="-60.7" y="-39.15" width="121.4" height="78.3"/><text y="-16.6">gini = 0.0</text><text y="5.6">samples = 1</text><text y="27.8">value = [0, 1]</text></g>
<g id="n69" class="n" transform="translate(2766.6,1638.4)"><rect x="-74.45" y="-50.35" width="148.9" height="100.7"/><text y="-27.7">Income &lt;= 109.5</text><text y="-5.5">gini = 0.18</text><text y="16.7">samples = 30</text><text y="38.9">value = [27, 3]</text></g>
<g id="n70" class="n" transform="translate(2930.6,1638.4)"><rect x="-65.35" y="-39.15" width="130.7" height="78.3"/><text y="-16.6">gini = 0.0</text><text y="5.6">samples = 23</text><text y="27.8">value = [23, 0]</text></g>
<g id="n71" class="n" transform="translate(3081.3,1638.4)"><rect x="-60.7" y="-39.15" width="121.4" height="78.3"/><text y="-16.6">gini = 0.0</text><text y="5.6">samples = 2</text><text y="27.8">value = [0, 2]</text></g>
<g id="n72" class="n" transform="translate(3228,1638.4)"><rect x="-60.7" y="-39.15" width="121.4" height="78.3"/><text y="-16.6">gini = 0.0</text><text y="5.6">samples = 1</text><text y="27.8">value = [1, 0]</text></g>
<g id="n73" class="n" transform="translate(3374.5,1638.4)"><rect x="-60.7" y="-39.15" width="121.4" height="78.3"/><text y="-16.6">gini = 0.0</text><text y="5.6">samples = 5</text><text y="27.8">value = [0, 5]</text></g>
<g id="n74" class="n" transform="translate(3525.5,1638.4)"><rect x="-65.7" y="-50.35" width="131.4" height="100.7"/><text y="-27.7">CCAvg &lt;= 4.3</text><text y="-5.5">gini = 0.484</text><text y="16.7">samples = 17</text><text y="38.9">value = [10, 7]</text></g>
<g id="n75" class="n" transform="translate(3690.4,1638.4)"><rect x="-74.45" y="-50.35" width="148.9" height="100.7"/><text y="-27.7">Income &lt;= 100.5</text><text y="-5.5">gini = 0.48</text><text y="16.7">samples = 5</text><text y="38.9">value = [3, 2]</text></g>
<g id="n76" class="n" transform="translate(3854.4,1638.4)"><rect x="-65.35" y="-39.15" width="130.7" height="78.3"/><text y="-16.6">gini = 0.0</text><text y="5.6">samples = 15</text><text y="27.8">value = [0, 15]</text></g>
<g id="n77" class="n" transform="translate(4005,1638.4)"><rect x="-60.7" y="-39.15" width="121.4" height="78.3"/><text y="-16.6">gini = 0.0</text><text y="5.6">samples = 1</text><text y="27.8">value = [1, 0]</text></g>
<g id="n78" class="n" transform="translate(4161.3,1638.4)"><rect x="-70.35" y="-50.35" width="140.7" height="100.7"/><text y="-27.7">CCAvg &lt;= 4.45</text><text y="-5.5">gini = 0.408</text><text y="16.7">samples = 7</text><text y="38.9">value = [2, 5]</text></g>
<g id="n79" class="n" transform="translate(4451.5,1638.4)"><rect x="-60.7" y="-39.15" width="121.4" height="78.3"/><text y="-16.6">gini = 0.0</text><text y="5.6">samples = 2</text><text y="27.8">value = [2, 0]</text></g>
<g id="n80" class="n" transform="translate(4601.7,1638.4)"><rect x="-63.6" y="-50.35" width="127.2" height="100.7"/><text y="-27.7">Family &lt;= 1.5</text><text y="-5.5">gini = 0.444</text><text y="16.7">samples = 3</text><text y="38.9">value = [2, 1]</text></g>
<g id="n81" class="n" transform="translate(4755.8,1638.4)"><rect x="-65.7" y="-50.35" width="131.4" height="100.7"/><text y="-27.7">CCAvg &lt;= 2.3</text><text y="-5.5">gini = 0.5</text><text y="16.7">samples = 6</text><text y="38.9">value = [3, 3]</text></g>
<g id="n82" class="n" transform="translate(4906,1638.4)"><rect x="-60.7" y="-39.15" width="121.4" height="78.3"/><text y="-16.6">gini = 0.0</text><text y="5.6">samples = 3</text><text y="27.8">value = [0, 3]</text></g>
<g id="n83" class="n" transform="translate(5052.9,1638.4)"><rect x="-60.7" y="-39.15" width="121.4" height="78.3"/><text y="-16.6">gini = 0.0</text><text y="5.6">samples = 2</text><text y="27.8">value = [2, 0]</text></g>
<g id="n84" class="n" transform="translate(5213,1638.4)"><rect x="-75" y="-50.35" width="150" height="100.7"/><text y="-27.7">Education &lt;= 2.5</text><text y="-5.5">gini = 0.5</text><text y="16.7">samples = 2</text><text y="38.9">value = [1, 1]</text></g>
<g id="n85" class="n" transform="translate(73.2,1787.75)"><rect x="-60.7" y="-39.15" width="121.4" height="78.3"/><text y="-16.6">gini = 0.0</text><text y="5.6">samples = 7</text><text y="27.8">value = [7, 0]</text></g>
<g id="n86" class="n" transform="translate(223.9,1787.75)"><rect x="-65.7" y="-50.35" width="131.4" height="100.7"/><text y="-27.7">CCAvg &lt;= 1.2</text><text y="-5.5">gini = 0.5</text><text y="16.7">samples = 2</text><text y="38.9">value = [1, 1]</text></g>
<g id="n87" class="n" transform="translate(374.5,1787.75)"><rect x="-60.7" y="-39.15" width="121.4" height="78.3"/><text y="-16.6">gini = 0.0</text><text y="5.6">samples = 2</text><text y="27.8">value = [0, 2]</text></g>
<g id="n88" class="n" transform="translate(534.7,1787.75)"><rect x="-74.45" y="-50.35" width="148.9" height="100.7"/><text y="-27.7">Income &lt;= 110.5</text><text y="-5.5">gini = 0.48</text><text y="16.7">samples = 5</text><text y="38.9">value = [3, 2]</text></g>
<g id="n89" class="n" transform="translate(694.8,1787.75)"><rect x="-60.7" y="-39.15" width="121.4" height="78.3"/><text y="-16.6">gini = 0.0</text><text y="5.6">samples = 1</text><text y="27.8">value = [1, 0]</text></g>
<g id="n90" class="n" transform="translate(841.2,1787.75)"><rect x="-60.7" y="-39.15" width="121.4" height="78.3"/><text y="-16.6">gini = 0.0</text><text y="5.6">samples = 1</text><text y="27.8">value = [0, 1]</text></g>
<g id="n91" class="n" transform="translate(1001.3,1787.75)"><rect x="-74.45" y="-50.35" width="148.9" height="100.7"/><text y="-27.7">Income &lt;= 112.5</text><text y="-5.5">gini = 0.48</text><text y="16.7">samples = 5</text><text y="38.9">value = [3, 2]</text></g>
<g id="n92" class="n" transform="translate(1165.3,1787.75)"><rect x="-65.35" y="-39.15" width="130.7" height="78.3"/><text y="-16.6">gini = 0.0</text><text y="5.6">samples = 14</text><text y="27.8">value = [14, 0]</text></g>
<g id="n93" class="n" transform="translate(1319.8,1787.75)"><rect x="-63.6" y="-50.35" width="127.2" height="100.7"/><text y="-27.7">Family &lt;= 2.5</text><text y="-5.5">gini = 0.48</text><text y="16.7">samples = 10</text><text y="38.9">value = [6, 4]</text></g>
<g id="n94" class="n" transform="translate(1471.8,1787.75)"><rect x="-65.35" y="-39.15" width="130.7" height="78.3"/><text y="-16.6">gini = 0.0</text><text y="5.6">samples = 13</text><text y="27.8">value = [13, 0]</text></g>
<g id="n95" class="n" transform="translate(1628,1787.75)"><rect x="-65.35" y="-39.15" width="130.7" height="78.3"/><text y="-16.6">gini = 0.0</text><text y="5.6">samples = 23</text><text y="27.8">value = [23, 0]</text></g>
<g id="n96" class="n" transform="translate(1783.4,1787.75)"><rect x="-65.35" y="-50.35" width="130.7" height="100.7"/><text y="-27.7">Family &lt;= 3.0</text><text y="-5.5">gini = 0.208</text><text y="16.7">samples = 17</text><text y="38.9">value = [15, 2]</text></g>
<g id="n97" class="n" transform="translate(2080,1787.75)"><rect x="-69.8" y="-50.35" width="139.6" height="100.7"/><text y="-27.7">Income &lt;= 83.5</text><text y="-5.5">gini = 0.408</text><text y="16.7">samples = 14</text><text y="38.9">value = [10, 4]</text></g>
<g id="n98" class="n" transform="translate(2239.3,1787.75)"><rect x="-65.7" y="-50.35" width="131.4" height="100.7"/><text y="-27.7">CCAvg &lt;= 3.5</text><text y="-5.5">gini = 0.32</text><text y="16.7">samples = 5</text><text y="38.9">value = [1, 4]</text></g>
<g id="n99" class="n" transform="translate(2397.3,1787.75)"><rect x="-65.35" y="-39.15" width="130.7" height="78.3"/><text y="-16.6">gini = 0.0</text><text y="5.6">samples = 21</text><text y="27.8">value = [21, 0]</text></g>
<g id="n100" class="n" transform="translate(2557,1787.75)"><rect x="-69.8" y="-50.35" width="139.6" height="100.7"/><text y="-27.7">Income &lt;= 83.5</text><text y="-5.5">gini = 0.231</text><text y="16.7">samples = 15</text><text y="38.9">value = [13, 2]</text></g>
<g id="n101" class="n" transform="translate(2794.6,1787.75)"><rect x="-74.45" y="-50.35" width="148.9" height="100.7"/><text y="-27.7">Income &lt;= 108.5</text><text y="-5.5">gini = 0.291</text><text y="16.7">samples = 17</text><text y="38.9">value = [14, 3]</text></g>
<g id="n102" class="n" transform="translate(2958.6,1787.75)"><rect x="-65.35" y="-39.15" width="130.7" height="78.3"/><text y="-16.6">gini = 0.0</text><text y="5.6">samples = 13</text><text y="27.8">value = [13, 0]</text></g>
<g id="n103" class="n" transform="translate(3358.5,1787.75)"><rect x="-74.45" y="-50.35" width="148.9" height="100.7"/><text y="-27.7">Income &lt;= 100.0</text><text y="-5.5">gini = 0.48</text><text y="16.7">samples = 10</text><text y="38.9">value = [4, 6]</text></g>
<g id="n104" class="n" transform="translate(3527.7,1787.75)"><rect x="-70.35" y="-50.35" width="140.7" height="100.7"/><text y="-27.7">CCAvg &lt;= 4.65</text><text y="-5.5">gini = 0.245</text><text y="16.7">samples = 7</text><text y="38.9">value = [6, 1]</text></g>
<g id="n105" class="n" transform="translate(3687.8,1787.75)"><rect x="-60.7" y="-39.15" width="121.4" height="78.3"/><text y="-16.6">gini = 0.0</text><text y="5.6">samples = 1</text><text y="27.8">value = [0, 1]</text></g>
<g id="n106" class="n" transform="translate(3838.5,1787.75)"><rect x="-65.7" y="-50.35" width="131.4" height="100.7"/><text y="-27.7">CCAvg &lt;= 3.2</text><text y="-5.5">gini = 0.375</text><text y="16.7">samples = 4</text><text y="38.9">value = [3, 1]</text></g>
<g id="n107" class="n" transform="translate(4138.5,1787.75)"><rect x="-74.45" y="-50.35" width="148.9" height="100.7"/><text y="-27.7">Income &lt;= 106.0</text><text y="-5.5">gini = 0.48</text><text y="16.7">samples = 5</text><text y="38.9">value = [2, 3]</text></g>
<g id="n108" class="n" transform="translate(4298.2,1787.75)"><rect x="-60.7" y="-39.15" width="121.4" height="78.3"/><text y="-16.6">gini = 0.0</text><text y="5.6">samples = 2</text><text y="27.8">value = [0, 2]</text></g>
<g id="n109" class="n" transform="translate(4455.8,1787.75)"><rect x="-60.7" y="-39.15" width="121.4" height="78.3"/><text y="-16.6">gini = 0.0</text><text y="5.6">samples = 1</text><text y="27.8">value = [0, 1]</text></g>
<g id="n110" class="n" transform="translate(4602.1,1787.75)"><rect x="-60.7" y="-39.15" width="121.4" height="78.3"/><text y="-16.6">gini = 0.0</text><text y="5.6">samples = 2</text><text y="27.8">value = [2, 0]</text></g>
<g id="n111" class="n" transform="translate(4752.8,1787.75)"><rect x="-60.7" y="-39.15" width="121.4" height="78.3"/><text y="-16.6">gini = 0.0</text><text y="5.6">samples = 1</text><text y="27.8">value = [0, 1]</text></g>
<g id="n112" class="n" transform="translate(4913.4,1787.75)"><rect x="-75" y="-50.35" width="150" height="100.7"/><text y="-27.7">Education &lt;= 2.5</text><text y="-5.5">gini = 0.48</text><text y="16.7">samples = 5</text><text y="38.9">value = [3, 2]</text></g>
<g id="n113" class="n" transform="translate(5144.1,1787.75)"><rect x="-60.7" y="-39.15" width="121.4" height="78.3"/><text y="-16.6">gini = 0.0</text><text y="5.6">samples = 1</text><text y="27.8">value = [0, 1]</text></g>
<g id="n114" class="n" transform="translate(5290.5,1787.75)"><rect x="-60.7" y="-39.15" width="121.4" height="78.3"/><text y="-16.6">gini = 0.0</text><text y="5.6">samples = 1</text><text y="27.8">value = [1, 0]</text></g>
<g id="n115" class="n" transform="translate(118.8,1937.1)"><rect x="-60.7" y="-39.15" width="121.4" height="78.3"/><text y="-16.6">gini = 0.0</text><text y="5.6">samples = 1</text><text y="27.8">value = [0, 1]</text></g>
<g id="n116" class="n" transform="translate(265.2,1937.1)"><rect x="-60.7" y="-39.15" width="121.4" height="78.3"/><text y="-16.6">gini = 0.0</text><text y="5.6">samples = 1</text><text y="27.8">value = [1, 0]</text></g>
<g id="n117" class="n" transform="translate(462.8,1937.1)"><rect x="-60.7" y="-39.15" width="121.4" height="78.3"/><text y="-16.6">gini = 0.0</text><text y="5.6">samples = 2</text><text y="27.8">value = [2, 0]</text></g>
<g id="n118" class="n" transform="translate(618.2,1937.1)"><rect x="-70.35" y="-50.35" width="140.7" height="100.7"/><text y="-27.7">CCAvg &lt;= 1.35</text><text y="-5.5">gini = 0.444</text><text y="16.7">samples = 3</text><text y="38.9">value = [1, 2]</text></g>
<g id="n119" class="n" transform="translate(849.4,1937.1)"><rect x="-74.45" y="-50.35" width="148.9" height="100.7"/><text y="-27.7">Income &lt;= 108.5</text><text y="-5.5">gini = 0.375</text><text y="16.7">samples = 4</text><text y="38.9">value = [3, 1]</text></g>
<g id="n120" class="n" transform="translate(1009,1937.1)"><rect x="-60.7" y="-39.15" width="121.4" height="78.3"/><text y="-16.6">gini = 0.0</text><text y="5.6">samples = 1</text><text y="27.8">value = [0, 1]</text></g>
<g id="n121" class="n" transform="translate(1181.3,1937.1)"><rect x="-60.7" y="-39.15" width="121.4" height="78.3"/><text y="-16.6">gini = 0.0</text><text y="5.6">samples = 2</text><text y="27.8">value = [0, 2]</text></g>
<g id="n122" class="n" transform="translate(1335.3,1937.1)"><rect x="-69.8" y="-50.35" width="139.6" height="100.7"/><text y="-27.7">Income &lt;= 63.5</text><text y="-5.5">gini = 0.375</text><text y="16.7">samples = 8</text><text y="38.9">value = [6, 2]</text></g>
<g id="n123" class="n" transform="translate(1631.9,1937.1)"><rect x="-65.7" y="-50.35" width="131.4" height="100.7"/><text y="-27.7">CCAvg &lt;= 3.3</text><text y="-5.5">gini = 0.375</text><text y="16.7">samples = 8</text><text y="38.9">value = [6, 2]</text></g>
<g id="n124" class="n" transform="translate(1782.6,1937.1)"><rect x="-60.7" y="-39.15" width="121.4" height="78.3"/><text y="-16.6">gini = 0.0</text><text y="5.6">samples = 9</text><text y="27.8">value = [9, 0]</text></g>
<g id="n125" class="n" transform="translate(1932,1937.1)"><rect x="-63.6" y="-50.35" width="127.2" height="100.7"/><text y="-27.7">Family &lt;= 3.0</text><text y="-5.5">gini = 0.375</text><text y="16.7">samples = 4</text><text y="38.9">value = [1, 3]</text></g>
<g id="n126" class="n" transform="translate(2086.5,1937.1)"><rect x="-65.7" y="-50.35" width="131.4" height="100.7"/><text y="-27.7">CCAvg &lt;= 3.5</text><text y="-5.5">gini = 0.18</text><text y="16.7">samples = 10</text><text y="38.9">value = [9, 1]</text></g>
<g id="n127" class="n" transform="translate(2237.2,1937.1)"><rect x="-60.7" y="-39.15" width="121.4" height="78.3"/><text y="-16.6">gini = 0.0</text><text y="5.6">samples = 3</text><text y="27.8">value = [0, 3]</text></g>
<g id="n128" class="n" transform="translate(2383.5,1937.1)"><rect x="-60.7" y="-39.15" width="121.4" height="78.3"/><text y="-16.6">gini = 0.5</text><text y="5.6">samples = 2</text><text y="27.8">value = [1, 1]</text></g>
<g id="n129" class="n" transform="translate(2543.7,1937.1)"><rect x="-75" y="-50.35" width="150" height="100.7"/><text y="-27.7">Education &lt;= 2.5</text><text y="-5.5">gini = 0.444</text><text y="16.7">samples = 6</text><text y="38.9">value = [4, 2]</text></g>
<g id="n130" class="n" transform="translate(2704.2,1937.1)"><rect x="-60.7" y="-39.15" width="121.4" height="78.3"/><text y="-16.6">gini = 0.0</text><text y="5.6">samples = 9</text><text y="27.8">value = [9, 0]</text></g>
<g id="n131" class="n" transform="translate(2859.6,1937.1)"><rect x="-70.35" y="-50.35" width="140.7" height="100.7"/><text y="-27.7">CCAvg &lt;= 4.35</text><text y="-5.5">gini = 0.219</text><text y="16.7">samples = 16</text><text y="38.9">value = [14, 2]</text></g>
<g id="n132" class="n" transform="translate(3015.8,1937.1)"><rect x="-60.7" y="-39.15" width="121.4" height="78.3"/><text y="-16.6">gini = 0.0</text><text y="5.6">samples = 1</text><text y="27.8">value = [0, 1]</text></g>
<g id="n133" class="n" transform="translate(3202.7,1937.1)"><rect x="-70.35" y="-50.35" width="140.7" height="100.7"/><text y="-27.7">CCAvg &lt;= 3.95</text><text y="-5.5">gini = 0.48</text><text y="16.7">samples = 5</text><text y="38.9">value = [3, 2]</text></g>
<g id="n134" class="n" transform="translate(3363.7,1937.1)"><rect x="-65.7" y="-50.35" width="131.4" height="100.7"/><text y="-27.7">CCAvg &lt;= 3.7</text><text y="-5.5">gini = 0.32</text><text y="16.7">samples = 5</text><text y="38.9">value = [1, 4]</text></g>
<g id="n135" class="n" transform="translate(3523.8,1937.1)"><rect x="-60.7" y="-39.15" width="121.4" height="78.3"/><text y="-16.6">gini = 0.0</text><text y="5.6">samples = 6</text><text y="27.8">value = [6, 0]</text></g>
<g id="n136" class="n" transform="translate(3670.2,1937.1)"><rect x="-60.7" y="-39.15" width="121.4" height="78.3"/><text y="-16.6">gini = 0.0</text><text y="5.6">samples = 1</text><text y="27.8">value = [0, 1]</text></g>
<g id="n137" class="n" transform="translate(3820,1937.1)"><rect x="-60.7" y="-39.15" width="121.4" height="78.3"/><text y="-16.6">gini = 0.0</text><text y="5.6">samples = 1</text><text y="27.8">value = [0, 1]</text></g>
<g id="n138" class="n" transform="translate(3966.7,1937.1)"><rect x="-60.7" y="-39.15" width="121.4" height="78.3"/><text y="-16.6">gini = 0.0</text><text y="5.6">samples = 3</text><text y="27.8">value = [3, 0]</text></g>
<g id="n139" class="n" transform="translate(4127.7,1937.1)"><rect x="-70.35" y="-50.35" width="140.7" height="100.7"/><text y="-27.7">CCAvg &lt;= 4.25</text><text y="-5.5">gini = 0.375</text><text y="16.7">samples = 4</text><text y="38.9">value = [1, 3]</text></g>
<g id="n140" class="n" transform="translate(4283.6,1937.1)"><rect x="-60.7" y="-39.15" width="121.4" height="78.3"/><text y="-16.6">gini = 0.0</text><text y="5.6">samples = 1</text><text y="27.8">value = [1, 0]</text></g>
<g id="n141" class="n" transform="translate(4838.9,1937.1)"><rect x="-60.7" y="-39.15" width="121.4" height="78.3"/><text y="-16.6">gini = 0.0</text><text y="5.6">samples = 2</text><text y="27.8">value = [2, 0]</text></g>
<g id="n142" class="n" transform="translate(4987.9,1937.1)"><rect x="-63.6" y="-50.35" width="127.2" height="100.7"/><text y="-27.7">Family &lt;= 2.5</text><text y="-5.5">gini = 0.444</text><text y="16.7">samples = 3</text><text y="38.9">value = [1, 2]</text></g>
<g id="n143" class="n" transform="translate(493.3,2073.5)"><rect x="-60.7" y="-39.15" width="121.4" height="78.3"/><text y="-16.6">gini = 0.0</text><text y="5.6">samples = 1</text><text y="27.8">value = [0, 1]</text></g>
<g id="n144" class="n" transform="translate(639.7,2073.5)"><rect x="-60.7" y="-39.15" width="121.4" height="78.3"/><text y="-16.6">gini = 0.5</text><text y="5.6">samples = 2</text><text y="27.8">value = [1, 1]</text></g>
<g id="n145" class="n" transform="translate(827.8,2073.5)"><rect x="-60.7" y="-39.15" width="121.4" height="78.3"/><text y="-16.6">gini = 0.5</text><text y="5.6">samples = 2</text><text y="27.8">value = [1, 1]</text></g>
<g id="n146" class="n" transform="translate(974.2,2073.5)"><rect x="-60.7" y="-39.15" width="121.4" height="78.3"/><text y="-16.6">gini = 0.0</text><text y="5.6">samples = 2</text><text y="27.8">value = [2, 0]</text></g>
<g id="n147" class="n" transform="translate(1192,2073.5)"><rect x="-60.7" y="-39.15" width="121.4" height="78.3"/><text y="-16.6">gini = 0.0</text><text y="5.6">samples = 5</text><text y="27.8">value = [5, 0]</text></g>
<g id="n148" class="n" transform="translate(1338.4,2073.5)"><rect x="-60.7" y="-39.15" width="121.4" height="78.3"/><text y="-16.6">gini = 0.444</text><text y="5.6">samples = 3</text><text y="27.8">value = [1, 2]</text></g>
<g id="n149" class="n" transform="translate(1489,2073.5)"><rect x="-60.7" y="-39.15" width="121.4" height="78.3"/><text y="-16.6">gini = 0.0</text><text y="5.6">samples = 3</text><text y="27.8">value = [3, 0]</text></g>
<g id="n150" class="n" transform="translate(1635.4,2073.5)"><rect x="-60.7" y="-39.15" width="121.4" height="78.3"/><text y="-16.6">gini = 0.48</text><text y="5.6">samples = 5</text><text y="27.8">value = [3, 2]</text></g>
<g id="n151" class="n" transform="translate(1787.8,2073.5)"><rect x="-60.7" y="-39.15" width="121.4" height="78.3"/><text y="-16.6">gini = 0.0</text><text y="5.6">samples = 2</text><text y="27.8">value = [0, 2]</text></g>
<g id="n152" class="n" transform="translate(1935,2073.5)"><rect x="-60.7" y="-39.15" width="121.4" height="78.3"/><text y="-16.6">gini = 0.5</text><text y="5.6">samples = 2</text><text y="27.8">value = [1, 1]</text></g>
<g id="n153" class="n" transform="translate(2085.6,2073.5)"><rect x="-60.7" y="-39.15" width="121.4" height="78.3"/><text y="-16.6">gini = 0.0</text><text y="5.6">samples = 8</text><text y="27.8">value = [8, 0]</text></g>
<g id="n154" class="n" transform="translate(2232,2073.5)"><rect x="-60.7" y="-39.15" width="121.4" height="78.3"/><text y="-16.6">gini = 0.5</text><text y="5.6">samples = 2</text><text y="27.8">value = [1, 1]</text></g>
<g id="n155" class="n" transform="translate(2418,2073.5)"><rect x="-60.7" y="-39.15" width="121.4" height="78.3"/><text y="-16.6">gini = 0.444</text><text y="5.6">samples = 3</text><text y="27.8">value = [1, 2]</text></g>
<g id="n156" class="n" transform="translate(2563.5,2073.5)"><rect x="-60.7" y="-39.15" width="121.4" height="78.3"/><text y="-16.6">gini = 0.0</text><text y="5.6">samples = 3</text><text y="27.8">value = [3, 0]</text></g>
<g id="n157" class="n" transform="translate(2741.6,2073.5)"><rect x="-65.35" y="-39.15" width="130.7" height="78.3"/><text y="-16.6">gini = 0.142</text><text y="5.6">samples = 13</text><text y="27.8">value = [12, 1]</text></g>
<g id="n158" class="n" transform="translate(2896.6,2073.5)"><rect x="-60.7" y="-39.15" width="121.4" height="78.3"/><text y="-16.6">gini = 0.444</text><text y="5.6">samples = 3</text><text y="27.8">value = [2, 1]</text></g>
<g id="n159" class="n" transform="translate(3059.3,2073.5)"><rect x="-60.7" y="-39.15" width="121.4" height="78.3"/><text y="-16.6">gini = 0.5</text><text y="5.6">samples = 4</text><text y="27.8">value = [2, 2]</text></g>
<g id="n160" class="n" transform="translate(3205.7,2073.5)"><rect x="-60.7" y="-39.15" width="121.4" height="78.3"/><text y="-16.6">gini = 0.0</text><text y="5.6">samples = 1</text><text y="27.8">value = [1, 0]</text></g>
<g id="n161" class="n" transform="translate(3356.4,2073.5)"><rect x="-60.7" y="-39.15" width="121.4" height="78.3"/><text y="-16.6">gini = 0.0</text><text y="5.6">samples = 2</text><text y="27.8">value = [0, 2]</text></g>
<g id="n162" class="n" transform="translate(3503.1,2073.5)"><rect x="-60.7" y="-39.15" width="121.4" height="78.3"/><text y="-16.6">gini = 0.444</text><text y="5.6">samples = 3</text><text y="27.8">value = [1, 2]</text></g>
<g id="n163" class="n" transform="translate(4054.5,2073.5)"><rect x="-60.7" y="-39.15" width="121.4" height="78.3"/><text y="-16.6">gini = 0.0</text><text y="5.6">samples = 3</text><text y="27.8">value = [0, 3]</text></g>
<g id="n164" class="n" transform="translate(4200.9,2073.5)"><rect x="-60.7" y="-39.15" width="121.4" height="78.3"/><text y="-16.6">gini = 0.0</text><text y="5.6">samples = 1</text><text y="27.8">value = [1, 0]</text></g>
<g id="n165" class="n" transform="translate(4914.6,2073.5)"><rect x="-60.7" y="-39.15" width="121.4" height="78.3"/><text y="-16.6">gini = 0.0</text><text y="5.6">samples = 2</text><text y="27.8">value = [0, 2]</text></g>
<g id="n166" class="n" transform="translate(5060.9,2073.5)"><rect x="-60.7" y="-39.15" width="121.4" height="78.3"/><text y="-16.6">gini = 0.0</text><text y="5.6">samples = 1</text><text y="27.8">value = [1, 0]</text></g>
</g>
</g>
</svg>
